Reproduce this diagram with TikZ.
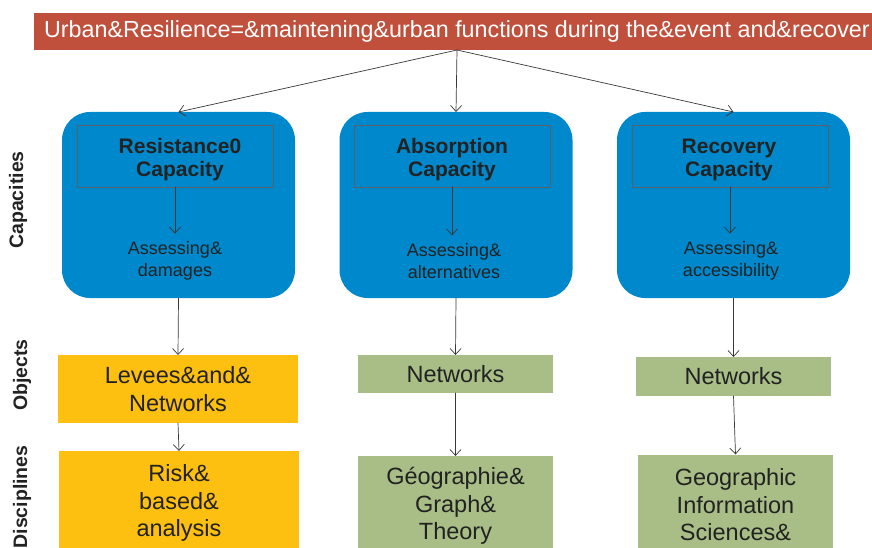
\documentclass[tikz,border=0pt]{standalone}
\usepackage{fontspec}
\setmainfont{Liberation Sans}
\usetikzlibrary{arrows.meta}
\definecolor{UrbanRed}{RGB}{192,80,60}
\definecolor{UrbanBlue}{RGB}{0,136,204}
\definecolor{UrbanGold}{RGB}{254,192,16}
\definecolor{UrbanSage}{RGB}{168,190,134}
\definecolor{UrbanInk}{RGB}{34,34,34}
\definecolor{UrbanFrame}{RGB}{88,96,104}
\tikzset{
    urban/diagram/.style={
        x=1pt, y=-1pt,
        text=UrbanInk,
        line cap=round,
        line join=round,
        every node/.style={inner sep=0pt, outer sep=0pt}
    },
    urban/title/.style={
        fill=UrbanRed, text=white,
        minimum width=846pt, minimum height=37pt,
        font=\fontsize{23.3}{27}\selectfont
    },
    urban/capacity/.style={
        fill=UrbanBlue, rounded corners=28pt,
        minimum width=233pt, minimum height=186pt
    },
    urban/head/.style={
        draw=UrbanFrame, line width=0.9pt,
        minimum width=196pt, minimum height=62pt
    },
    urban/headtext/.style={align=center, font=\bfseries\fontsize{21}{23}\selectfont},
    urban/note/.style={align=center, font=\fontsize{18}{22}\selectfont},
    urban/box/.style={align=center, font=\fontsize{23.5}{27.5}\selectfont},
    urban/gold/.style={urban/box, fill=UrbanGold},
    urban/sage/.style={urban/box, fill=UrbanSage},
    urban/axis/.style={rotate=90, font=\bfseries\fontsize{19.5}{21}\selectfont},
    urban/link/.style={
        draw=UrbanInk!90, line width=0.7pt,
        -{Straight Barb[length=6pt, width=11pt]}
    }
}

\begin{document}
\begin{tikzpicture}[urban/diagram]
    \clip (0,0) rectangle (872,548);
    % title bar
    \node[urban/title] (title) at (457,31.5)
        {Urban\&Resilience=\&maintening\&urban functions during the\&event and\&recover};
    % capacities
    \node[urban/capacity] (capL) at (178.5,205) {};
    \node[urban/capacity] (capM) at (456,205) {};
    \node[urban/capacity] (capR) at (733.5,205) {};
    \node[urban/head] (headL) at (175,156) {};
    \node[urban/head] (headM) at (452,156) {};
    \node[urban/head] (headR) at (730,156) {};
    \node[urban/headtext] (headTxtL) at (180,160) {Resistance0\\Capacity};
    \node[urban/headtext] (headTxtM) at (452,160) {Absorption\\Capacity};
    \node[urban/headtext] (headTxtR) at (729,160) {Recovery\\Capacity};
    \node[urban/note] (noteL) at (175,261) {Assessing\&\\damages};
    \node[urban/note] (noteM) at (454,261) {Assessing\&\\alternatives};
    \node[urban/note] (noteR) at (731,261) {Assessing\&\\accessibility};
    % objects and disciplines
    \node[urban/gold, minimum width=240pt, minimum height=68pt] (objL) at (178,389)
        {Levees\&and\&\\Networks};
    \node[urban/gold, minimum width=240pt, minimum height=104pt] (discL) at (179,503)
        {Risk\&\\based\&\\analysis};
    \node[urban/sage, minimum width=195pt, minimum height=38pt] (objM) at (455.5,374)
        {Networks};
    \node[urban/sage, minimum width=195pt, minimum height=100pt] (discM) at (455.5,506)
        {Géographie\&\\Graph\&\\Theory};
    \node[urban/sage, minimum width=195pt, minimum height=39pt] (objR) at (733.5,376.5)
        {Networks};
    \node[urban/sage, minimum width=195pt, minimum height=101pt] (discR) at (735.5,505)
        {Geographic\\Information\\Sciences\&};
    % row labels
    \node[urban/axis] (rowCap) at (18,200) {Capacities};
    \node[urban/axis] (rowObj) at (22,375) {Objects};
    \node[urban/axis] (rowDisc) at (22,497) {Disciplines};
    % links
    \draw[urban/link] (title.south) -- (capL.north);
    \draw[urban/link] (title.south) -- (capM.north);
    \draw[urban/link] (title.south) -- (capR.north);
    \foreach \col in {L,M,R}{
        \draw[urban/link, shorten >=8pt] (head\col.south) -- (head\col.south |- note\col.north);
        \draw[urban/link] (cap\col.south) -- (obj\col.north);
        \draw[urban/link] (obj\col.south) -- (disc\col.north);
    }
\end{tikzpicture}
\end{document}
